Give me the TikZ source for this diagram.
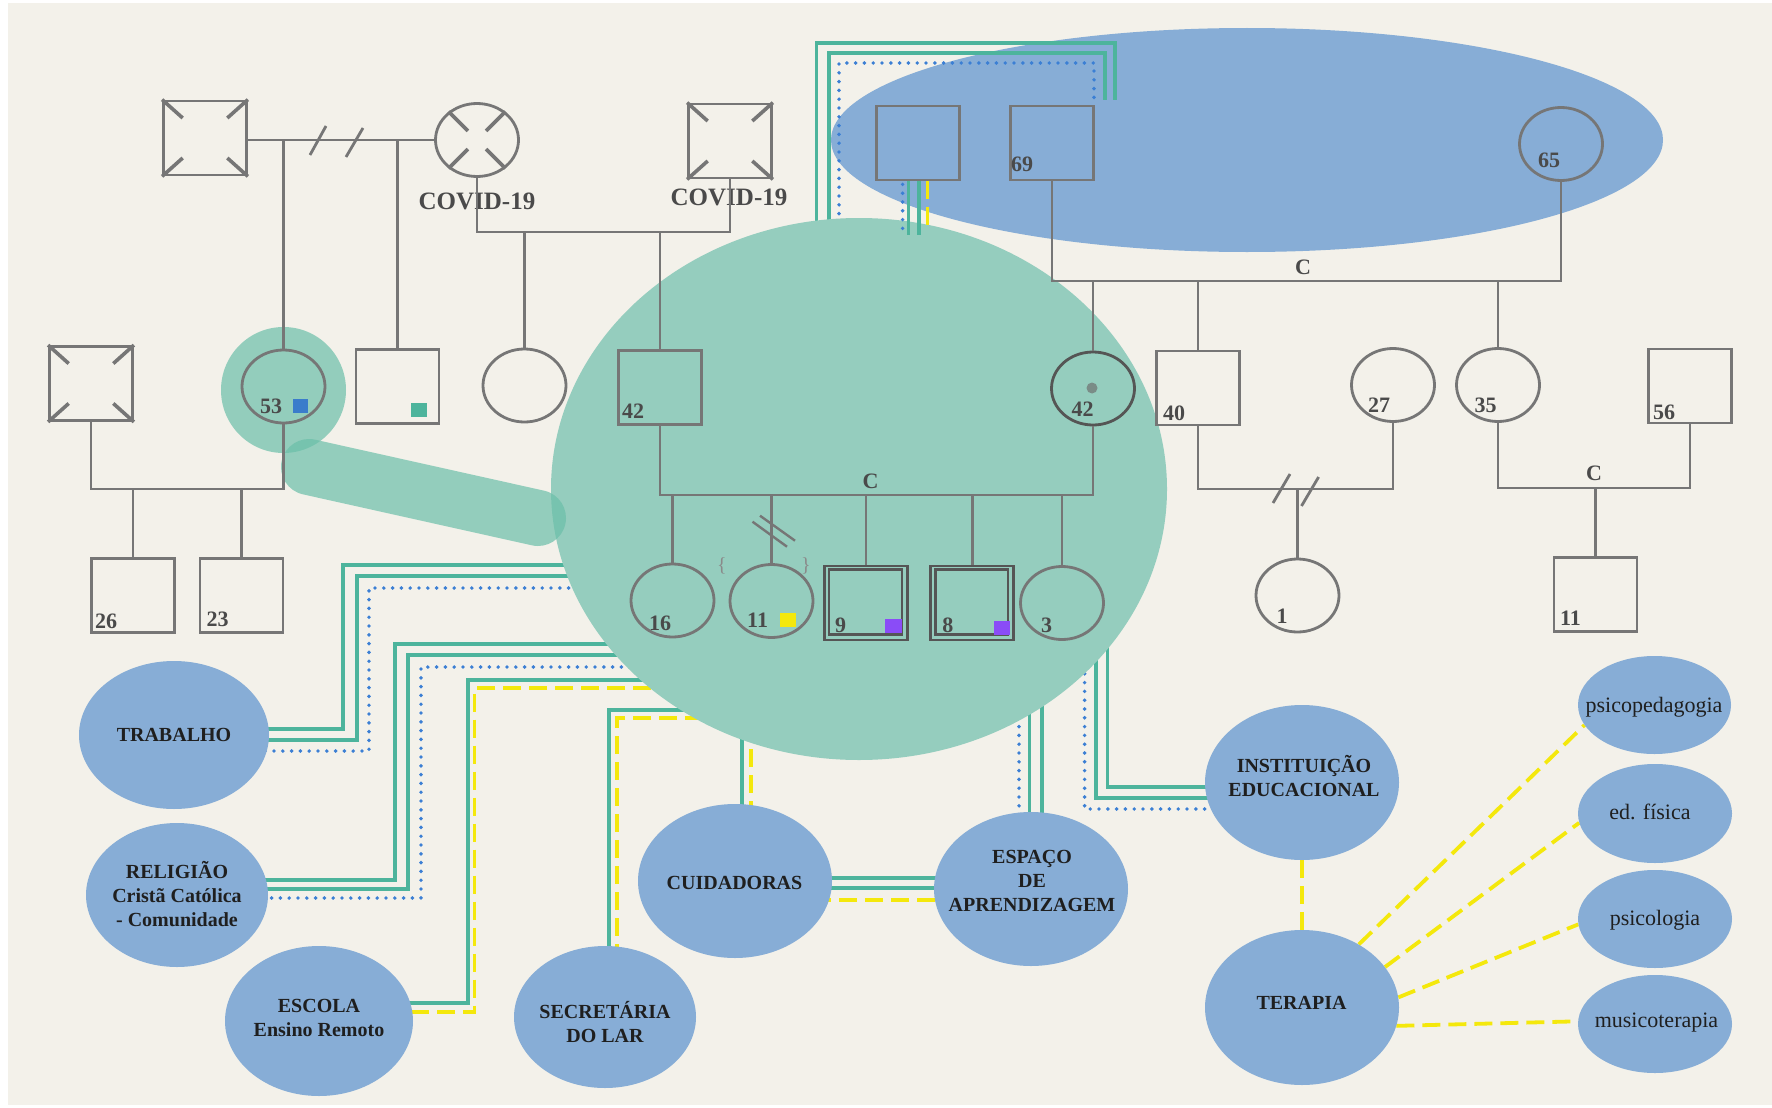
\documentclass[tikz,border=0pt]{standalone}
\usepackage{fontspec}
\setmainfont{Liberation Serif}
\usetikzlibrary{shapes.geometric,calc}

\definecolor{paper}{HTML}{F3F1EA}
\definecolor{pedgrey}{HTML}{767676}
\definecolor{darkgrey}{HTML}{555555}
\definecolor{labelgrey}{HTML}{4A4A4A}
\definecolor{housefill}{HTML}{95CDBE}
\definecolor{halofill}{HTML}{6BBFA9}
\definecolor{socblue}{HTML}{87ADD6}
\definecolor{bondteal}{HTML}{4DB49C}
\definecolor{bonddot}{HTML}{3B7FD4}
\definecolor{bondyellow}{HTML}{F4E80C}
\definecolor{markblue}{HTML}{3A7CCB}
\definecolor{markpurple}{HTML}{8A4CF7}
\definecolor{dotgrey}{HTML}{7A8C87}
\definecolor{bracegrey}{HTML}{8A8A8A}

\pgfdeclarelayer{back}
\pgfdeclarelayer{mid}
\pgfsetlayers{back,mid,main}

% strokes marking a deceased person
\newcommand\deceasedsquare[1]{%
  \foreach \corner in {north west,north east,south west,south east}
    {\draw[deadmark] (#1.\corner) -- ($(#1.\corner)!0.48!(#1.center)$);}}
\newcommand\deceasedround[1]{%
  \foreach \ang in {45,135,225,315}
    {\draw[deadmark] (#1.\ang) -- ($(#1.center)!0.32!(#1.\ang)$);}}

\begin{document}
\begin{tikzpicture}[x=1pt,y=-1pt,
  male/.style={rectangle,draw=pedgrey,line width=2.8pt,minimum width=83pt,minimum height=74pt,inner sep=0pt},
  female/.style={ellipse,draw=pedgrey,line width=2.8pt,minimum width=83pt,minimum height=73pt,inner sep=0pt},
  pline/.style={draw=pedgrey,line width=2.8pt},
  deadmark/.style={draw=pedgrey,line width=3.6pt},
  age/.style={text=labelgrey,font=\fontsize{22}{24}\selectfont\bfseries,inner sep=0pt},
  covid/.style={text=labelgrey,font=\fontsize{25}{27}\selectfont\bfseries,inner sep=0pt},
  social/.style={ellipse,fill=socblue,inner sep=0pt},
  soctext/.style={font=\fontsize{20}{24}\selectfont\bfseries,align=center,text=black!88,inner sep=0pt},
  smalltext/.style={font=\fontsize{22}{26}\selectfont,text=black!88,inner sep=0pt},
  tealbond/.style={draw=bondteal,line width=3.6pt},
  dotbond/.style={draw=bonddot,line width=3.9pt,line cap=round,dash pattern=on 0pt off 8.8pt},
  yellowbond/.style={draw=bondyellow,line width=3.8pt,dash pattern=on 18pt off 8pt},
]
\useasboundingbox (0,0) rectangle (1772,1108);

% ---------- household circle and the highlight around 53 ----------
\begin{pgfonlayer}{mid}
  \node[ellipse,fill=housefill,minimum width=616pt,minimum height=542pt,inner sep=0pt] (household) at (859,489) {};
  \node[ellipse,fill=halofill,fill opacity=0.7,minimum width=125pt,minimum height=126pt,inner sep=0pt] (halo) at (283.5,390) {};
  \draw[halofill,draw opacity=0.7,line width=56pt,line cap=round] (309,467) -- (538,518);
\end{pgfonlayer}

% ---------- social network ----------
\node[social,minimum width=190pt,minimum height=148pt] (trabalho) at (174,735) {};
\node[soctext] at (174,735) {TRABALHO};
\node[social,minimum width=182pt,minimum height=144pt] (religiao) at (177,895) {};
\node[soctext] at (177,894.5) {RELIGIÃO\\Cristã Católica\\- Comunidade};
\node[social,minimum width=188pt,minimum height=150pt] (escola) at (319,1021) {};
\node[soctext] at (319,1017.5) {ESCOLA\\Ensino Remoto};
\node[social,minimum width=182pt,minimum height=142pt] (secretaria) at (605,1017) {};
\node[soctext] at (605,1022) {SECRETÁRIA\\DO LAR};
\node[social,minimum width=194pt,minimum height=154pt] (cuidadoras) at (735,881) {};
\node[soctext] at (734.5,883) {CUIDADORAS};
\node[social,minimum width=194pt,minimum height=154pt] (espaco) at (1031,889) {};
\node[soctext] at (1032,880.5) {ESPAÇO\\DE\\APRENDIZAGEM};
\node[social,minimum width=194pt,minimum height=155pt] (instituicao) at (1302,782.5) {};
\node[soctext] at (1304,775.5) {INSTITUIÇÃO\\EDUCACIONAL};
\node[social,minimum width=194pt,minimum height=155pt] (terapia) at (1302,1007.5) {};
\node[soctext] at (1301.5,1003) {TERAPIA};
\node[social,minimum width=153pt,minimum height=98pt] (psicoped) at (1654.5,705) {};
\node[smalltext] at (1654,707) {psicopedagogia};
\node[social,minimum width=154pt,minimum height=99pt] (edfisica) at (1655,813.5) {};
\node[smalltext] at (1650,812) {ed. física};
\node[social,minimum width=154pt,minimum height=98pt] (psicologia) at (1655,919) {};
\node[smalltext] at (1655,920) {psicologia};
\node[social,minimum width=154pt,minimum height=98pt] (musico) at (1655,1024) {};
\node[smalltext] at (1656.5,1023) {musicoterapia};

% ---------- background, extended family and bonds ----------
\begin{pgfonlayer}{back}
  \fill[white] (0,0) rectangle (1772,1108);
  \fill[paper] (8,3) rectangle (1772,1105);
  \node[ellipse,fill=socblue,minimum width=832pt,minimum height=224pt,inner sep=0pt] (elders) at (1247,140) {};

  % household -- grandparents
  \draw[tealbond] (household.center -| 816.5,0) ++(0,-249) |- (1115,43) -- (1115,100);
  \draw[tealbond] (household.center -| 829,0) ++(0,-249) |- (1105,53) -- (1105,100);
  \draw[dotbond] (household.center -| 839,0) ++(0,-249) |- (1094,63) -- (1094,98);

  % household -- work
  \draw[tealbond] (household.center |- 0,565) -| (343,729) -- (trabalho.center |- 0,729);
  \draw[tealbond] (household.center |- 0,576) -| (357,740) -- (trabalho.center |- 0,740);
  \draw[dotbond] (household.center |- 0,588) -| (369,751) -- (trabalho.center |- 0,751);

  % household -- religion
  \draw[tealbond] (household.center |- 0,644) -| (395,880) -- (religiao.center |- 0,880);
  \draw[tealbond] (household.center |- 0,655) -| (408,889) -- (religiao.center |- 0,889);
  \draw[dotbond] (household.center |- 0,667) -| (421,898) -- (religiao.center |- 0,898);

  % household -- school
  \draw[tealbond] (household.center |- 0,680) -| (467.7,1003) -- (escola.center |- 0,1003);
  \draw[yellowbond] (household.center |- 0,688) -| (474.5,1012) -- (escola.center |- 0,1012);

  % household -- housekeeper
  \draw[tealbond] (household.center |- 0,710) -| (secretaria.center -| 609,0);
  \draw[yellowbond] (household.center |- 0,718) -| (secretaria.center -| 617,0);

  % household -- caregivers
  \draw[tealbond] (household.center -| 742,0) -- (cuidadoras.center -| 742,0);
  \draw[yellowbond] (household.center -| 751,0) -- (cuidadoras.center -| 751,0);

  % caregivers -- learning space
  \draw[tealbond] ([yshift=3pt]cuidadoras.center) -- ([yshift=3pt]cuidadoras.center -| espaco.center);
  \draw[tealbond] ([yshift=-7pt]cuidadoras.center) -- ([yshift=-7pt]cuidadoras.center -| espaco.center);
  \draw[yellowbond] ([yshift=-19pt]cuidadoras.center) -- ([yshift=-19pt]cuidadoras.center -| espaco.center);

  % household -- learning space
  \draw[dotbond] (household.center -| 1019,0) -- (espaco.center -| 1019,0);
  \draw[tealbond] (household.center -| 1029.6,0) -- (espaco.center -| 1029.6,0);
  \draw[tealbond] (household.center -| 1042,0) -- (espaco.center -| 1042,0);

  % household -- educational institution
  \draw[tealbond] (household.center -| 1107.5,0) |- (instituicao.center |- 0,787);
  \draw[tealbond] (household.center -| 1095.7,0) |- (instituicao.center |- 0,798);
  \draw[dotbond] (household.center -| 1084.6,0) |- (instituicao.center |- 0,809);

  % therapy network
  \draw[yellowbond] (instituicao) -- (terapia);
  \draw[yellowbond] (terapia.48.5) -- (psicoped.196.7);
  \draw[yellowbond] (terapia.26.3) -- (edfisica.187);
  \draw[yellowbond] (terapia.6) -- (psicologia.184);
  \draw[yellowbond] (terapia.-11.7) -- (musico.178);
\end{pgfonlayer}

% ---------- genogram: first generation ----------
\node[male] (gfL) at (205,138) {};
\node[female] (gmL) at (477,140) {};
\node[male] (gfR) at (730,141) {};
\node[male] (gfM) at (918,143) {};
\node[male] (g69) at (1052,143) {};
\node[female] (g65) at (1561,144) {};
\deceasedsquare{gfL}
\deceasedround{gmL}
\deceasedsquare{gfR}

% ---------- second generation ----------
\node[male] (ldec) at (91,383.5) {};
\node[female] (p53) at (283.5,386.5) {};
\node[male] (bro) at (397.5,386.5) {};
\node[female] (aunt) at (524.5,385.5) {};
\node[male] (m42) at (660,387.5) {};
\node[female,draw=darkgrey] (f42) at (1093,388.5) {};
\node[male] (s40) at (1198,388) {};
\node[female] (f27) at (1393,385) {};
\node[female] (f35) at (1498,385) {};
\node[male] (m56) at (1690,386) {};
\deceasedsquare{ldec}

% ---------- third generation ----------
\node[male] (s26) at (133,595.5) {};
\node[male] (s23) at (241.5,595.5) {};
\node[female] (c16) at (672.5,600.5) {};
\node[female] (c11) at (771.5,601) {};
\node[male,draw=darkgrey] (c9) at (866,603) {};
\node[male,draw=darkgrey] (c8) at (972.3,603) {};
\node[female] (c3) at (1062,603) {};
\node[female] (c1) at (1297.5,595.5) {};
\node[male] (s11) at (1595.5,594.5) {};
\draw[darkgrey,line width=2.4pt] ($(c9.north west)+(6,5)$) rectangle ($(c9.south east)+(-7,-7)$);
\draw[darkgrey,line width=2.4pt] ($(c8.north west)+(6,5)$) rectangle ($(c8.south east)+(-7,-7)$);

% ---------- family lines ----------
\coordinate (covbar) at (600,232);
\coordinate (eldbar) at (1300,281);
\coordinate (hbar) at (870,495);
\coordinate (lbar) at (200,489);
\coordinate (rbar) at (1300,489);
\coordinate (r2bar) at (1600,488);

\draw[pline] (gmL.west) -- (gmL.west -| gfL.east);
\draw[pline] (p53.north) -- (p53.north |- gmL.west);
\draw[pline] (bro.north) -- (bro.north |- gmL.west);
\draw[pline] (310,155) -- (326,126);
\draw[pline] (346,157) -- (363,128);

\node[covid] (covL) at (477,201) {COVID-19};
\node[covid] (covR) at (729,197) {COVID-19};
\draw[pline] (gmL.south) |- (gfR.south |- covbar) -- (gfR.south);
\draw[pline] (aunt.north) -- (aunt.north |- covbar);
\draw[pline] (m42.north) -- (m42.north |- covbar);

\draw[pline] (g69.south) |- (g65.south |- eldbar) -- (g65.south);
\draw[pline] (f42.north) -- (f42.north |- eldbar);
\draw[pline] (s40.north) -- (s40.north |- eldbar);
\draw[pline] (f35.north) -- (f35.north |- eldbar);
\node[age] at (1303,267.5) {C};

\draw[pline] (m42.south) |- (f42.south |- hbar) -- (f42.south);
\foreach \kid in {c16,c11,c9,c8,c3}
  {\draw[pline] (\kid.north) -- (\kid.north |- hbar);}
\node[age] at (870.5,481) {C};
\draw[pline,line width=2.4pt] (752.5,521.7) -- (787,546.7);
\draw[pline,line width=2.4pt] (760,515.7) -- (795,540.7);
\node[text=bracegrey,font=\fontsize{20}{22}\selectfont,inner sep=0pt] at (722,566) {\{};
\node[text=bracegrey,font=\fontsize{20}{22}\selectfont,inner sep=0pt] at (806,566) {\}};

\draw[pline] (ldec.south) |- (p53.south |- lbar) -- (p53.south);
\draw[pline] (s26.north) -- (s26.north |- lbar);
\draw[pline] (s23.north) -- (s23.north |- lbar);

\draw[pline] (s40.south) |- (f27.south |- rbar) -- (f27.south);
\draw[pline] (c1.north) -- (c1.north |- rbar);
\draw[pline] (1273,503) -- (1290,474);
\draw[pline] (1301.5,506) -- (1318.6,477);

\draw[pline] (f35.south) |- (m56.south |- r2bar) -- (m56.south);
\draw[pline] (s11.north) -- (s11.north |- r2bar);
\node[age] at (1594,473.5) {C};

% ---------- ages ----------
\node[age] at (271,406) {53};
\node[age] at (633,411) {42};
\node[age] at (1022,164) {69};
\node[age] at (1549,160) {65};
\node[age] at (1082.6,409) {42};
\node[age] at (1174,413.5) {40};
\node[age] at (1379,405.7) {27};
\node[age] at (1485.5,405.7) {35};
\node[age] at (1664,412.5) {56};
\node[age] at (106,621.5) {26};
\node[age] at (217.5,619.5) {23};
\node[age] at (660,623) {16};
\node[age] at (757.6,620.5) {11};
\node[age] at (840.6,625.5) {9};
\node[age] at (947.8,625.6) {8};
\node[age] at (1046.5,625.6) {3};
\node[age] at (1282,616.6) {1};
\node[age] at (1570.5,618.5) {11};

% ---------- condition markers ----------
\fill[markblue] (293,399) rectangle (308,413);
\fill[bondteal] (411,403) rectangle (427,417);
\fill[bondyellow] (780,613) rectangle (796,627);
\fill[markpurple] (885,619) rectangle (902,633);
\fill[markpurple] (993.6,621) rectangle (1009.5,635);
\fill[dotgrey] (1092,388) circle (5.5);

% ---------- bonds between the household and the maternal grandfather ----------
\draw[dotbond] (gfM.south -| 902.6,0) ++(0,3) -- (902.6,230);
\draw[tealbond] (gfM.south -| 908.4,0) -- (908.4,235);
\draw[tealbond] (gfM.south -| 918.7,0) -- (918.7,235);
\draw[yellowbond] (gfM.south -| 927.5,0) -- (927.5,230);
\end{tikzpicture}
\end{document}
